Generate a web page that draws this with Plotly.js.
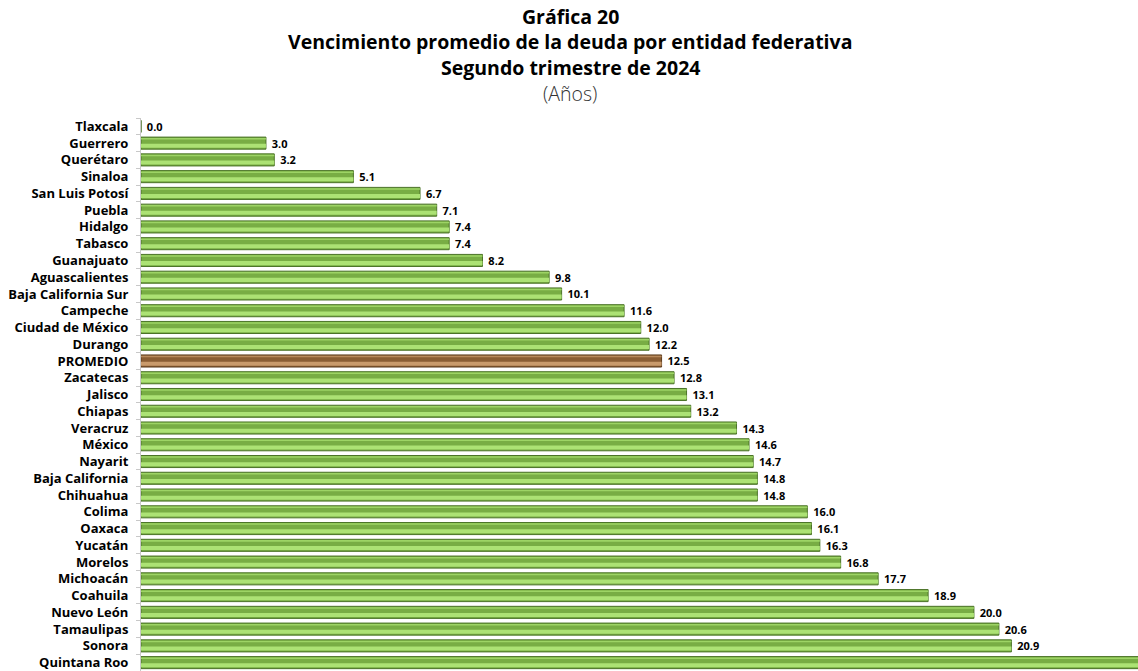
<!DOCTYPE html>
<html>
<head>
<meta charset="utf-8">
<script src="https://cdn.plot.ly/plotly-3.0.1.min.js"></script>
<style>html,body{margin:0;padding:0;background:#fff;}#chart{width:1138px;height:671px;}</style>
</head>
<body>
<div id="chart"></div>
<script>
const categories = ["Tlaxcala","Guerrero","Querétaro","Sinaloa","San Luis Potosí","Puebla","Hidalgo","Tabasco","Guanajuato","Aguascalientes","Baja California Sur","Campeche","Ciudad de México","Durango","PROMEDIO","Zacatecas","Jalisco","Chiapas","Veracruz","México","Nayarit","Baja California","Chihuahua","Colima","Oaxaca","Yucatán","Morelos","Michoacán","Coahuila","Nuevo León","Tamaulipas","Sonora","Quintana Roo"];
const values = [0.0,3.0,3.2,5.1,6.7,7.1,7.4,7.4,8.2,9.8,10.1,11.6,12.0,12.2,12.5,12.8,13.1,13.2,14.3,14.6,14.7,14.8,14.8,16.0,16.1,16.3,16.8,17.7,18.9,20.0,20.6,20.9,24.6];
const averageLabel = "PROMEDIO";
const titleLines = ["Gráfica 20","Vencimiento promedio de la deuda por entidad federativa","Segundo trimestre de 2024","(Años)"];

const baseColors = categories.map(c => c === averageLabel ? "#8a5d33" : "#78ad44");
const lineColors = categories.map(c => c === averageLabel ? "#5c3b1c" : "#4b7327");
const lightColors = categories.map(c => c === averageLabel ? "#c99a6b" : "#ace274");
const topColors = categories.map(c => c === averageLabel ? "#b88a5c" : "#9dd465");

const fontFam = "'Open Sans', Lato, sans-serif";

const traces = [
  {
    type: "bar", orientation: "h", y: categories, x: values,
    width: 0.72, offset: -0.36,
    marker: {color: baseColors, line: {color: lineColors, width: 1}},
    texttemplate: " %{x:.1f}", textposition: "outside", cliponaxis: false,
    constraintext: "none",
    textfont: {family: fontFam, size: 11, color: "#000", weight: 700},
    hoverinfo: "y+x"
  },
  {
    type: "bar", orientation: "h", y: categories, x: values,
    width: 0.24, offset: 0.04,
    marker: {color: lightColors, line: {width: 0}},
    hoverinfo: "skip", textposition: "none"
  },
  {
    type: "bar", orientation: "h", y: categories, x: values,
    width: 0.09, offset: -0.31,
    marker: {color: topColors, line: {width: 0}},
    hoverinfo: "skip", textposition: "none"
  }
];

const titleY = [16, 42, 68, 94];
const annotations = titleLines.map((t, i) => ({
  text: i < 3 ? "<b>" + t + "</b>" : t,
  xref: "paper", yref: "paper",
  x: (570 - 141) / (1138 - 141), xanchor: "center",
  y: 1 + (118 - titleY[i]) / 553, yanchor: "middle",
  showarrow: false,
  font: {family: fontFam, size: i < 3 ? 19.5 : 19.5, color: i < 3 ? "#000" : "#333", weight: i < 3 ? 700 : 300}
}));

const layout = {
  width: 1138, height: 671,
  paper_bgcolor: "#fff", plot_bgcolor: "#fff",
  margin: {l: 141, r: 0, t: 118, b: 0},
  barmode: "overlay",
  showlegend: false,
  font: {family: fontFam, color: "#000"},
  annotations: annotations,
  xaxis: {
    range: [0, 23.94], visible: false, fixedrange: true
  },
  yaxis: {
    type: "category", autorange: "reversed",
    showline: true, linecolor: "#c8c8c8", linewidth: 1,
    ticks: "outside", tickson: "boundaries", ticklen: 4, tickcolor: "#c8c8c8",
    ticklabelstandoff: 9,
    tickfont: {family: fontFam, size: 13, color: "#000", weight: 700},
    showgrid: false, zeroline: false, fixedrange: true
  }
};

Plotly.newPlot("chart", traces, layout, {displayModeBar: false, staticPlot: true});
</script>
</body>
</html>
